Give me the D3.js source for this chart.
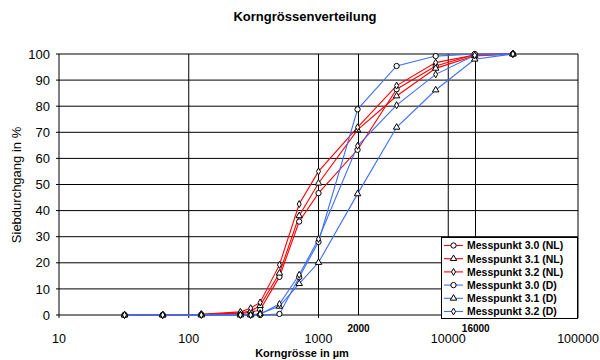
<!DOCTYPE html>
<html>
<head>
<meta charset="utf-8">
<script src="https://cdn.jsdelivr.net/npm/d3@7/dist/d3.min.js"></script>
<style>
  html, body { margin: 0; padding: 0; background: #fff; }
  svg { display: block; font-family: "Liberation Sans", Arial, Helvetica, sans-serif; }
</style>
</head>
<body>
<svg id="chart" width="600" height="360"></svg>
<script>
// Sieve sizes in µm
const sizes = [32, 63, 125, 250, 300, 355, 500, 710, 1000, 2000, 4000, 8000, 16000, 31500];

// Passing percentages per sampling point
const nl30 = [0, 0, 0.2, 0.6, 1.0, 2.0, 14.6, 35.8, 46.7, 63.3, 86.5, 95.4, 99.8, 100];
const nl31 = [0, 0, 0.2, 0.8, 1.5, 3.6, 16.0, 38.0, 50.5, 70.9, 83.9, 94.5, 99.3, 100];
const nl32 = [0, 0, 0.3, 1.2, 2.6, 4.8, 19.2, 42.5, 55.0, 71.9, 87.9, 96.7, 99.6, 100];
const d30  = [0, 0, 0, 0, 0, 0, 0.4, 14.5, 28.0, 78.8, 95.4, 99.2, 100, 100];
const d31  = [0, 0, 0, 0, 0, 0.6, 3.3, 12.0, 20.1, 46.4, 71.9, 86.2, 98.0, 100];
const d32  = [0, 0, 0, 0, 0, 0.3, 4.2, 15.4, 29.1, 64.8, 80.4, 92.2, 99.5, 100];

const seriesNames = ["Messpunkt 3.0 (NL)", "Messpunkt 3.1 (NL)", "Messpunkt 3.2 (NL)",
                     "Messpunkt 3.0 (D)", "Messpunkt 3.1 (D)", "Messpunkt 3.2 (D)"];
const seriesValues = [nl30, nl31, nl32, d30, d31, d32];
const seriesColors = ["#ff0000", "#ff0000", "#ff0000", "#3f6ff5", "#3f6ff5", "#3f6ff5"];
const seriesMarkers = ["circle", "triangle", "diamond", "circle", "triangle", "diamond"];

const xTicks = [10, 100, 1000, 10000, 100000];
const xMarkTicks = [2000, 16000];
const yTicks = [0, 10, 20, 30, 40, 50, 60, 70, 80, 90, 100];

const svg = d3.select("#chart");
const plotLeft = 59, plotRight = 578, plotTop = 54, plotBottom = 315;

const x = d3.scaleLog().domain([10, 100000]).range([plotLeft, plotRight]);
const y = d3.scaleLinear().domain([0, 100]).range([plotBottom, plotTop]);

// Title
svg.append("text")
  .attr("x", 305).attr("y", 21)
  .attr("text-anchor", "middle")
  .attr("font-size", 13).attr("font-weight", "bold")
  .text("Korngrössenverteilung");

// Horizontal grid
svg.append("g").selectAll("line").data(yTicks).join("line")
  .attr("x1", plotLeft - 3).attr("x2", plotRight)
  .attr("y1", d => y(d)).attr("y2", d => y(d))
  .attr("stroke", "#000").attr("stroke-width", 1);

// Vertical grid at decades
svg.append("g").selectAll("line").data(xTicks).join("line")
  .attr("x1", d => x(d)).attr("x2", d => x(d))
  .attr("y1", plotTop).attr("y2", plotBottom + 3)
  .attr("stroke", "#000").attr("stroke-width", 1);

// Marked sieve sizes
svg.append("g").selectAll("line").data(xMarkTicks).join("line")
  .attr("x1", d => Math.round(x(d)) + 0.5).attr("x2", d => Math.round(x(d)) + 0.5)
  .attr("y1", plotTop).attr("y2", plotBottom)
  .attr("stroke", "#000").attr("stroke-width", 1);

// Y tick labels
svg.append("g").selectAll("text").data(yTicks).join("text")
  .attr("x", 50).attr("y", d => y(d) + 4.6)
  .attr("text-anchor", "end")
  .attr("font-size", 13)
  .text(d => d);

// X tick labels
const fmt = d3.format("d");
svg.append("g").selectAll("text").data(xTicks).join("text")
  .attr("x", d => x(d)).attr("y", 343)
  .attr("text-anchor", "middle")
  .attr("font-size", 12.5)
  .text(d => fmt(d));

svg.append("g").selectAll("text").data(xMarkTicks).join("text")
  .attr("x", d => x(d) + 1).attr("y", 331.5)
  .attr("text-anchor", "middle")
  .attr("font-size", 10).attr("font-weight", "bold")
  .text(d => fmt(d));

// Axis titles
svg.append("text")
  .attr("x", 302).attr("y", 356.5)
  .attr("text-anchor", "middle")
  .attr("font-size", 11).attr("font-weight", "bold")
  .text("Korngrösse in µm");

svg.append("text")
  .attr("transform", "translate(21,185) rotate(-90)")
  .attr("text-anchor", "middle")
  .attr("font-size", 13)
  .text("Siebdurchgang in %");

// Marker shapes
function markerPath(type) {
  if (type === "circle") return d3.symbol(d3.symbolCircle, 22)();
  if (type === "triangle") return d3.symbol(d3.symbolTriangle, 18)();
  return d3.symbol(d3.symbolDiamond, 14)();
}

const line = d3.line().x(d => x(d[0])).y(d => y(d[1]));

const series = seriesValues.map((vals, i) => ({
  name: seriesNames[i],
  color: seriesColors[i],
  marker: seriesMarkers[i],
  points: sizes.map((s, j) => [s, vals[j]])
}));

const gData = svg.append("g");
series.forEach(s => {
  gData.append("path")
    .attr("d", line(s.points))
    .attr("fill", "none")
    .attr("stroke", s.color)
    .attr("stroke-width", 1.1);
});
series.forEach(s => {
  gData.append("g").selectAll("path").data(s.points).join("path")
    .attr("d", markerPath(s.marker))
    .attr("transform", d => `translate(${x(d[0])},${y(d[1])})`)
    .attr("fill", "#fff")
    .attr("stroke", "#000")
    .attr("stroke-width", 1);
});

// Legend
const lg = svg.append("g");
lg.append("rect")
  .attr("x", 441.5).attr("y", 237.5)
  .attr("width", 136).attr("height", 81)
  .attr("fill", "#fff").attr("stroke", "#000").attr("stroke-width", 1);
series.forEach((s, i) => {
  const cy = 245.5 + i * 13.2;
  lg.append("line")
    .attr("x1", 444).attr("x2", 463)
    .attr("y1", cy).attr("y2", cy)
    .attr("stroke", s.color).attr("stroke-width", 1.1);
  lg.append("path")
    .attr("d", markerPath(s.marker))
    .attr("transform", `translate(453.5,${cy})`)
    .attr("fill", "#fff").attr("stroke", "#000").attr("stroke-width", 1);
  lg.append("text")
    .attr("x", 467).attr("y", cy + 3.8)
    .attr("font-size", 10.5).attr("font-weight", "bold")
    .text(s.name);
});
</script>
</body>
</html>
